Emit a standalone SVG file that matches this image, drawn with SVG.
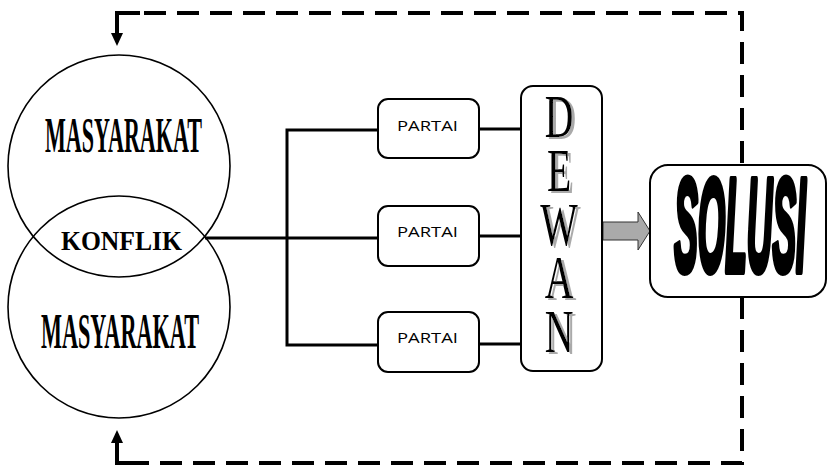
<svg xmlns="http://www.w3.org/2000/svg" width="832" height="470" viewBox="0 0 832 470">
<defs>
<style>
.circ{fill:none;stroke:#000;stroke-width:1.6}
.box{fill:#fff;stroke:#000;stroke-width:2}
.conn{fill:none;stroke:#000;stroke-width:3}
.dash{fill:none;stroke:#000;stroke-width:4;stroke-dasharray:22 11}
.masy{font-family:"Liberation Serif",serif;font-weight:bold;font-size:51px;fill:#000}
.konf{font-family:"Liberation Serif",serif;font-weight:bold;font-size:27px;fill:#000}
.partai{font-family:"Open Sans","Liberation Sans",sans-serif;font-size:15px;fill:#000}
.dewan{font-family:"Liberation Serif",serif;font-size:62px;fill:#000;writing-mode:vertical-rl;text-orientation:upright;letter-spacing:-14px}
.solusi{font-family:"Liberation Sans",sans-serif;font-weight:bold;font-style:italic;font-size:131px;fill:#000;stroke:#000;stroke-width:6;stroke-linejoin:round}
</style>
<filter id="shadow" x="-20%" y="-10%" width="160%" height="130%">
<feOffset in="SourceAlpha" dx="3" dy="2" result="off"/>
<feFlood flood-color="#aaa"/>
<feComposite in2="off" operator="in" result="sh"/>
<feMerge><feMergeNode in="sh"/><feMergeNode in="SourceGraphic"/></feMerge>
</filter>
</defs>
<g id="connectors">
<line class="conn" x1="205" y1="238" x2="378" y2="238"/>
<polyline class="conn" points="378,130 287,130 287,345 378,345"/>
<line class="conn" x1="479" y1="129" x2="522" y2="129"/>
<line class="conn" x1="479" y1="236" x2="522" y2="236"/>
<line class="conn" x1="479" y1="344" x2="522" y2="344"/>
<polygon points="603,222 638,222 638,212 650,231 638,250 638,240 603,240" fill="#aaa" stroke="#333" stroke-width="1"/>
<path class="dash" d="M742,163 V13 H140"/>
<path d="M117,36 V13 H140" fill="none" stroke="#000" stroke-width="4"/>
<polygon points="111,33 123,33 117,46" fill="#000"/>
<path class="dash" d="M742,297 V463 H140"/>
<path d="M140,463 H117 V440" fill="none" stroke="#000" stroke-width="4"/>
<polygon points="111,443 123,443 117,430" fill="#000"/>
</g>
<g id="masyarakat-top">
<circle class="circ" cx="119" cy="166" r="111"/>
<text class="masy" x="45" y="152" textLength="157" lengthAdjust="spacingAndGlyphs">MASYARAKAT</text>
</g>
<g id="masyarakat-bottom">
<circle class="circ" cx="119" cy="307" r="111"/>
<text class="masy" x="41" y="348" textLength="158" lengthAdjust="spacingAndGlyphs">MASYARAKAT</text>
</g>
<g id="konflik">
<text class="konf" x="61" y="250" textLength="121" lengthAdjust="spacingAndGlyphs">KONFLIK</text>
</g>
<g id="partai-1">
<rect class="box" x="378" y="99" width="101" height="59" rx="10"/>
<text class="partai" x="397" y="131" textLength="61" lengthAdjust="spacingAndGlyphs">PARTAI</text>
</g>
<g id="partai-2">
<rect class="box" x="378" y="206" width="101" height="60" rx="10"/>
<text class="partai" x="397" y="237" textLength="61" lengthAdjust="spacingAndGlyphs">PARTAI</text>
</g>
<g id="partai-3">
<rect class="box" x="378" y="312" width="101" height="60" rx="10"/>
<text class="partai" x="397" y="343" textLength="61" lengthAdjust="spacingAndGlyphs">PARTAI</text>
</g>
<g id="dewan">
<rect class="box" x="521" y="86" width="81" height="285" rx="12"/>
<g filter="url(#shadow)">
<text class="dewan" transform="translate(559,0) scale(0.64,1)" x="0" y="82">DEWAN</text>
</g>
</g>
<g id="solusi">
<rect class="box" x="650" y="165" width="176" height="132" rx="18"/>
<text class="solusi" transform="translate(740,271) scale(0.27,1)" text-anchor="middle" vector-effect="non-scaling-stroke">SOLUSI</text>
</g>
</svg>
